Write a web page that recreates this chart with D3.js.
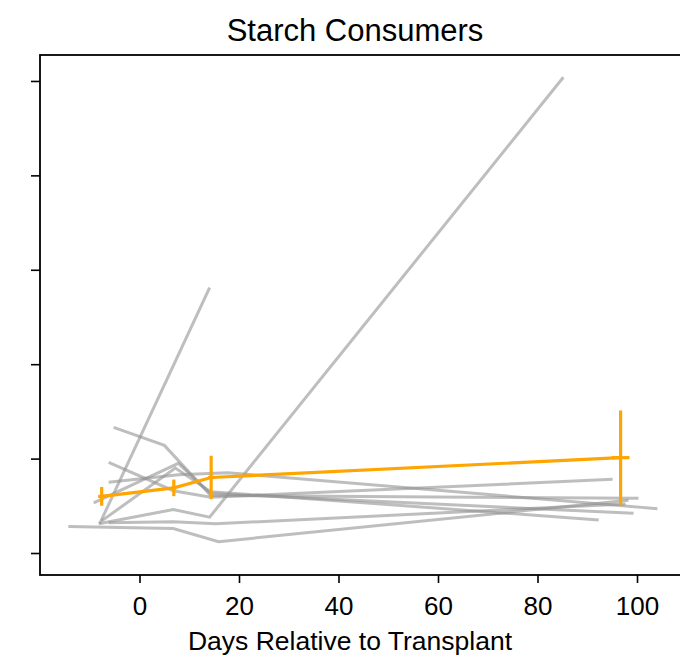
<!DOCTYPE html>
<html>
<head>
<meta charset="utf-8">
<script src="https://cdn.jsdelivr.net/npm/d3@7"></script>
<style>
  html, body { margin: 0; padding: 0; background: #fff; }
  svg { display: block; font-family: "Liberation Sans", Arial, Helvetica, sans-serif; }
</style>
</head>
<body>
<svg id="chart" width="680" height="659"></svg>
<script>
// Individual subjects: sampling days and abundance values
const subjectIds = ["A", "B", "C", "D", "E", "F", "G", "H", "I"];
const subjectDays = [
  [-8.0, 14.1],
  [-8.2, 6.8, 14.1, 85.2],
  [-5.2, 5.0, 14.3, 100.3],
  [-6.2, 6.8, 14.3, 95.1],
  [-6.2, 7.8, 17.7, 104.1],
  [-9.2, 7.8, 14.3, 99.3],
  [-7.6, 7.2, 14.3, 92.3],
  [-6.2, 6.8, 15.3, 97.7],
  [-14.3, 6.8, 15.9, 98.3]
];
const subjectValues = [
  [0.31, 2.81],
  [0.31, 0.46, 0.38, 5.04],
  [1.33, 1.14, 0.61, 0.58],
  [0.96, 0.66, 0.59, 0.78],
  [0.75, 0.83, 0.85, 0.47],
  [0.53, 0.95, 0.63, 0.42],
  [0.34, 0.90, 0.65, 0.35],
  [0.32, 0.33, 0.31, 0.52],
  [0.28, 0.26, 0.12, 0.56]
];

// Group mean with error bars
const meanDays = [-7.6, 6.9, 14.4, 96.7];
const meanValues = [0.60, 0.69, 0.80, 1.01];
const meanErr = [0.10, 0.088, 0.23, 0.50];
const dayErr = [0.7, 0.5, 0.6, 1.8];

const xTicks = [0, 20, 40, 60, 80, 100];
const yTicks = [0, 1, 2, 3, 4, 5];

const svg = d3.select("#chart");
const mLeft = 40, mTop = 55, mBottom = 575, mRight = 686.75;

const x = d3.scaleLinear().domain([-20, 110]).range([mLeft, mRight]);
const y = d3.scaleLinear().domain([-0.233, 5.275]).range([mBottom, mTop]);

svg.append("defs").append("clipPath").attr("id", "plotclip")
  .append("rect").attr("x", mLeft).attr("y", mTop)
  .attr("width", mRight - mLeft).attr("height", mBottom - mTop);

const plot = svg.append("g").attr("clip-path", "url(#plotclip)");

const line = d3.line().x(d => x(d[0])).y(d => y(d[1]));

// Subject trajectories
subjectIds.forEach((id, i) => {
  const pts = subjectDays[i].map((d, j) => [d, subjectValues[i][j]]);
  plot.append("path")
    .datum(pts)
    .attr("d", line)
    .attr("fill", "none")
    .attr("stroke", "#929292")
    .attr("stroke-opacity", 0.6)
    .attr("stroke-width", 3)
    .attr("stroke-linejoin", "miter");
});

// Mean trajectory
const meanPts = meanDays.map((d, j) => [d, meanValues[j]]);
const orange = "#ffa500";
plot.append("path")
  .datum(meanPts)
  .attr("d", line)
  .attr("fill", "none")
  .attr("stroke", orange)
  .attr("stroke-width", 3.2);

const eb = plot.append("g");
meanPts.forEach((p, j) => {
  eb.append("line")
    .attr("x1", x(p[0])).attr("x2", x(p[0]))
    .attr("y1", y(p[1] - meanErr[j])).attr("y2", y(p[1] + meanErr[j]))
    .attr("stroke", orange).attr("stroke-width", 3.2);
  eb.append("line")
    .attr("x1", x(p[0] - dayErr[j])).attr("x2", x(p[0] + dayErr[j]))
    .attr("y1", y(p[1])).attr("y2", y(p[1]))
    .attr("stroke", orange).attr("stroke-width", 3.2);
});

// Axes
const xAxis = svg.append("g")
  .attr("transform", `translate(0,${mBottom})`)
  .call(d3.axisBottom(x).tickValues(xTicks).tickSize(8).tickPadding(14).tickSizeOuter(0));
const yAxis = svg.append("g")
  .attr("transform", `translate(${mLeft},0)`)
  .call(d3.axisLeft(y).tickValues(yTicks).tickSize(9).tickFormat("").tickSizeOuter(0));

[xAxis, yAxis].forEach(g => {
  g.select(".domain").remove();
  g.selectAll(".tick line").attr("stroke", "#000").attr("stroke-width", 1.6);
});
xAxis.selectAll(".tick text")
  .attr("fill", "#000")
  .style("font-size", "26px");

// Frame
svg.append("rect")
  .attr("x", mLeft).attr("y", mTop)
  .attr("width", mRight - mLeft).attr("height", mBottom - mTop)
  .attr("fill", "none").attr("stroke", "#000").attr("stroke-width", 1.8);

// Title and axis label
svg.append("text")
  .attr("x", 355).attr("y", 41)
  .attr("text-anchor", "middle")
  .style("font-size", "31px")
  .text("Starch Consumers");

svg.append("text")
  .attr("x", 350).attr("y", 650)
  .attr("text-anchor", "middle")
  .style("font-size", "26.5px")
  .text("Days Relative to Transplant");
</script>
</body>
</html>
